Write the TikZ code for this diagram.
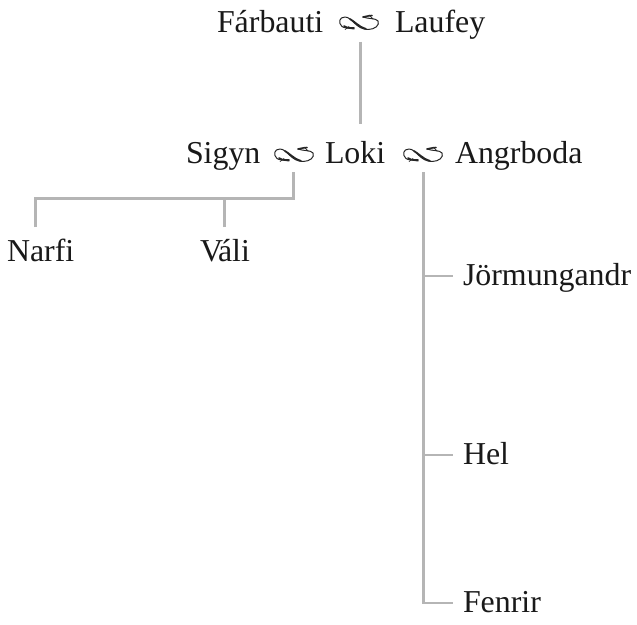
\documentclass[tikz,border=0pt]{standalone}
\usepackage{fontspec}
\setmainfont{Liberation Serif}
\definecolor{conn}{HTML}{B5B5B5}
\tikzset{
  x=1bp,y=-1bp,
  person/.style={anchor=base west,inner sep=0pt,outer sep=0pt,text=black!90,font=\fontsize{32}{36}\selectfont},
  union/.style={inner sep=0pt,outer sep=0pt,minimum width=44bp},
  link/.style={draw=conn,line width=3bp,line cap=butt},
  stub/.style={draw=conn,line width=2bp,line cap=butt},
  serpent/.pic={
    \draw[black!85,line width=1bp,line cap=round,line join=round]
      (-4,5) .. controls (-10,4) and (-14,4) .. (-16,2.5)
      .. controls (-20,-1) and (-19,-7) .. (-13,-7)
      .. controls (-6,-7) and (-2,5.5) .. (10,5.5)
      .. controls (17,5.5) and (22,1) .. (20,-3)
      .. controls (18,-6) and (10,-5) .. (5,-7);
    \draw[black!85,line width=1.7bp,line cap=round]
      (-8,-5) .. controls (-4,-3) and (1,3) .. (8,5);
    \draw[black!85,line width=1.6bp,line cap=round]
      (-14,2) .. controls (-10,4.5) and (-7,4) .. (-4,4);
    \draw[black!85,line width=1.6bp,line cap=round]
      (5,-7) .. controls (8,-8.5) and (11,-7.5) .. (14,-8.5);
    \draw[black!85,line width=0.7bp,line cap=round]
      (-13,5.5) -- (-9,2.5) (11,-9) -- (15,-5);
  }
}
\begin{document}
\begin{tikzpicture}
\useasboundingbox (0,0) rectangle (637,625);
\fill[white] (0,0) rectangle (637,625);
\node[person] (farbauti) at (217,33) {Fárbauti};
\node[person] (laufey) at (395,33) {Laufey};
\node[union,minimum height=36bp] (m1) at (360,24) {};
\pic at (358,24) {serpent};
\node[person] (sigyn) at (186,164) {Sigyn};
\node[person] (loki) at (325,164) {Loki};
\node[person] (angrboda) at (455,164) {Angrboda};
\node[union,minimum height=32bp] (m2) at (293,156) {};
\pic at (293,156) {serpent};
\node[union,minimum height=32bp] (m3) at (423,156) {};
\pic at (422,156) {serpent};
\node[person] (narfi) at (7,261) {Narfi};
\node[person] (vali) at (200,261) {V\kern-5bp áli};
\node[person] (jor) at (463,285) {Jörmungandr};
\node[person] (hel) at (463,464) {Hel};
\node[person] (fenrir) at (463,612) {Fenrir};
\coordinate (narfitop) at (35,227);
\coordinate (valitop) at (224,227);
\coordinate (jorstub) at (453,276);
\coordinate (helstub) at (453,455);
\coordinate (fenstub) at (453,603);
\draw[link] (narfitop) |- (m2.south |- 0,198) -- (m2.south);
\draw[link] (valitop) -- (224,198);
\draw[link] (m1.south) -- (360,124);
\draw[link] (m3.south) -- (423,603);
\draw[stub] (423,276) -- (jorstub);
\draw[stub] (423,455) -- (helstub);
\draw[stub] (422,603) -- (fenstub);
\end{tikzpicture}
\end{document}
